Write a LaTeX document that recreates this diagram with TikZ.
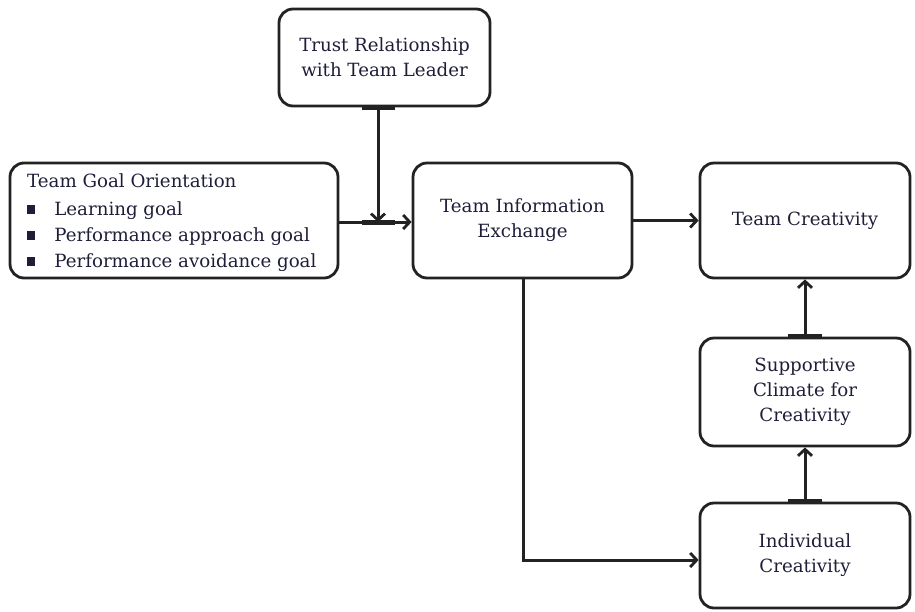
\documentclass[tikz,border=0pt]{standalone}
\usepackage{fontspec}
\setmainfont{DejaVu Serif}
\usetikzlibrary{arrows.meta}
\definecolor{ink}{HTML}{222222}
\definecolor{txt}{HTML}{1E1E38}
\newcommand{\sqbul}{\rule[0.1em]{0.45em}{0.45em}}
\begin{document}
\begin{tikzpicture}[x=1pt,y=-1pt,
  box/.style={draw=ink,line width=2.8pt,rounded corners=14pt,inner sep=0pt,
    text=txt,align=center,font=\fontsize{18.2}{25}\selectfont},
  link/.style={draw=ink,line width=3pt,-{Straight Barb[length=6.5pt,width=14pt,line width=2.8pt]}},
  bar/.style={draw=ink,line width=5pt}]
\useasboundingbox (0,0) rectangle (915,611);
% boxes
\node[box,minimum width=211pt,minimum height=97pt] (trust) at (384.5,57.5)
  {Trust Relationship\\with Team Leader};
\node[box,minimum width=328pt,minimum height=115pt] (goal) at (174,220.5) {};
\node[anchor=north west,inner sep=0pt,text=txt,font=\fontsize{18.2}{26}\selectfont,align=left]
  (goaltxt) at (27,169)
  {\begin{tabular}{@{}l@{\hspace{19pt}}l@{}}
   \multicolumn{2}{@{}l@{}}{Team Goal Orientation}\\[2pt]
   \sqbul & Learning goal\\
   \sqbul & Performance approach goal\\
   \sqbul & Performance avoidance goal
   \end{tabular}};
\node[box,minimum width=219pt,minimum height=115pt] (info) at (522.5,220.5)
  {Team Information\\Exchange};
\node[box,minimum width=210pt,minimum height=115pt] (tc) at (805,220.5)
  {Team Creativity};
\node[box,minimum width=210pt,minimum height=108pt] (sup) at (805,392)
  {Supportive\\Climate for\\Creativity};
\node[box,minimum width=210pt,minimum height=105pt] (ind) at (805,555.5)
  {Individual\\Creativity};
% connectors
\coordinate (j) at (378,222);
\draw[link] (goal.east |- j) -- (info.west |- j);
\draw[bar] (362,222) -- (395,222);
\draw[bar] (362,0 |- trust.south) -- (395,0 |- trust.south);
\draw[link] (trust.south -| j) -- (j);
\draw[link] (info.east |- tc.west) -- (tc.west);
\coordinate (k) at (523,560);
\draw[link] (info.south -| k) -- (k) -- (ind.west |- k);
\draw[bar] ([xshift=-17pt]ind.north) -- ([xshift=17pt]ind.north);
\draw[link] (ind.north) -- (sup.south);
\draw[bar] ([xshift=-17pt]sup.north) -- ([xshift=17pt]sup.north);
\draw[link] (sup.north) -- (tc.south);
\end{tikzpicture}
\end{document}
